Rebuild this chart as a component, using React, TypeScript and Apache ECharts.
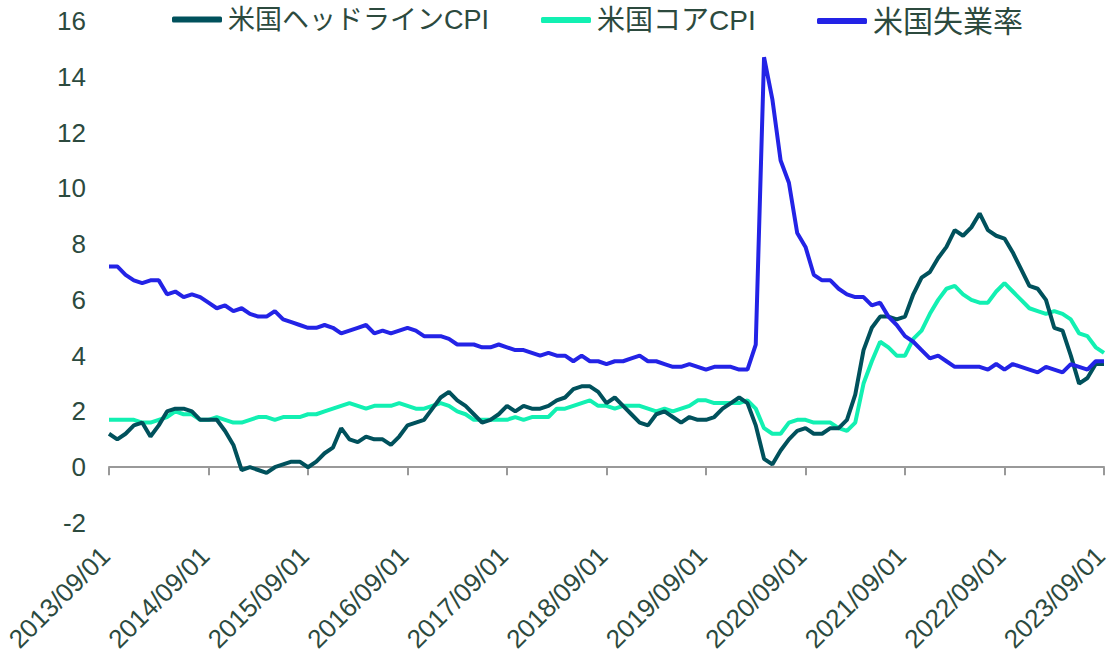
import React, { useEffect, useRef } from "react";
import * as echarts from "echarts";

// Monthly, 2013/09 .. 2023/09
const startYear = 2013;
const startMonth = 9;
const monthCount = 121;
const categories: string[] = [];
for (let i = 0; i < monthCount; i++) {
  const m = startMonth - 1 + i;
  const y = startYear + Math.floor(m / 12);
  const mm = (m % 12) + 1;
  categories.push(`${y}/${mm < 10 ? "0" + mm : mm}/01`);
}

const headlineCPI = [
  1.2, 1.0, 1.2, 1.5,
  1.6, 1.1, 1.5, 2.0, 2.1, 2.1, 2.0, 1.7, 1.7, 1.7, 1.3, 0.8,
  -0.1, 0.0, -0.1, -0.2, 0.0, 0.1, 0.2, 0.2, 0.0, 0.2, 0.5, 0.7,
  1.4, 1.0, 0.9, 1.1, 1.0, 1.0, 0.8, 1.1, 1.5, 1.6, 1.7, 2.1,
  2.5, 2.7, 2.4, 2.2, 1.9, 1.6, 1.7, 1.9, 2.2, 2.0, 2.2, 2.1,
  2.1, 2.2, 2.4, 2.5, 2.8, 2.9, 2.9, 2.7, 2.3, 2.5, 2.2, 1.9,
  1.6, 1.5, 1.9, 2.0, 1.8, 1.6, 1.8, 1.7, 1.7, 1.8, 2.1, 2.3,
  2.5, 2.3, 1.5, 0.3, 0.1, 0.6, 1.0, 1.3, 1.4, 1.2, 1.2, 1.4,
  1.4, 1.7, 2.6, 4.2, 5.0, 5.4, 5.4, 5.3, 5.4, 6.2, 6.8, 7.0,
  7.5, 7.9, 8.5, 8.3, 8.6, 9.1, 8.5, 8.3, 8.2, 7.7, 7.1, 6.5,
  6.4, 6.0, 5.0, 4.9, 4.0, 3.0, 3.2, 3.7, 3.7,
];

const coreCPI = [
  1.7, 1.7, 1.7, 1.7,
  1.6, 1.6, 1.7, 1.8, 2.0, 1.9, 1.9, 1.7, 1.7, 1.8, 1.7, 1.6,
  1.6, 1.7, 1.8, 1.8, 1.7, 1.8, 1.8, 1.8, 1.9, 1.9, 2.0, 2.1,
  2.2, 2.3, 2.2, 2.1, 2.2, 2.2, 2.2, 2.3, 2.2, 2.1, 2.1, 2.2,
  2.3, 2.2, 2.0, 1.9, 1.7, 1.7, 1.7, 1.7, 1.7, 1.8, 1.7, 1.8,
  1.8, 1.8, 2.1, 2.1, 2.2, 2.3, 2.4, 2.2, 2.2, 2.1, 2.2, 2.2,
  2.2, 2.1, 2.0, 2.1, 2.0, 2.1, 2.2, 2.4, 2.4, 2.3, 2.3, 2.3,
  2.3, 2.4, 2.1, 1.4, 1.2, 1.2, 1.6, 1.7, 1.7, 1.6, 1.6, 1.6,
  1.4, 1.3, 1.6, 3.0, 3.8, 4.5, 4.3, 4.0, 4.0, 4.6, 4.9, 5.5,
  6.0, 6.4, 6.5, 6.2, 6.0, 5.9, 5.9, 6.3, 6.6, 6.3, 6.0, 5.7,
  5.6, 5.5, 5.6, 5.5, 5.3, 4.8, 4.7, 4.3, 4.1,
];

const unemployment = [
  7.2, 7.2, 6.9, 6.7,
  6.6, 6.7, 6.7, 6.2, 6.3, 6.1, 6.2, 6.1, 5.9, 5.7, 5.8, 5.6,
  5.7, 5.5, 5.4, 5.4, 5.6, 5.3, 5.2, 5.1, 5.0, 5.0, 5.1, 5.0,
  4.8, 4.9, 5.0, 5.1, 4.8, 4.9, 4.8, 4.9, 5.0, 4.9, 4.7, 4.7,
  4.7, 4.6, 4.4, 4.4, 4.4, 4.3, 4.3, 4.4, 4.3, 4.2, 4.2, 4.1,
  4.0, 4.1, 4.0, 4.0, 3.8, 4.0, 3.8, 3.8, 3.7, 3.8, 3.8, 3.9,
  4.0, 3.8, 3.8, 3.7, 3.6, 3.6, 3.7, 3.6, 3.5, 3.6, 3.6, 3.6,
  3.5, 3.5, 4.4, 14.7, 13.2, 11.0, 10.2, 8.4, 7.9, 6.9, 6.7, 6.7,
  6.4, 6.2, 6.1, 6.1, 5.8, 5.9, 5.4, 5.1, 4.7, 4.5, 4.2, 3.9,
  4.0, 3.8, 3.6, 3.6, 3.6, 3.6, 3.5, 3.7, 3.5, 3.7, 3.6, 3.5,
  3.4, 3.6, 3.5, 3.4, 3.7, 3.6, 3.5, 3.8, 3.8,
];

const seriesNames = ["米国ヘッドラインCPI", "米国コアCPI", "米国失業率"];
const seriesColors = ["#00515c", "#12f0b2", "#2323e6"];

const TEXT = "#2c4a3e";
const FONT = "'Liberation Sans', Arial, 'Noto Sans CJK JP', sans-serif";

const legendLefts = [172, 541, 817];
const legendFontSizes = [27, 28, 30];

export default function App() {
  const ref = useRef<HTMLDivElement>(null);
  useEffect(() => {
    if (!ref.current) return;
    const chart = echarts.init(ref.current, undefined, { renderer: "svg" });
    const dataSets = [headlineCPI, coreCPI, unemployment];
    chart.setOption({
      animation: false,
      textStyle: { fontFamily: FONT, color: TEXT },
      legend: seriesNames.map((name, i) => ({
        top: 6,
        left: legendLefts[i],
        itemWidth: 50,
        itemHeight: 6,
        itemGap: 6,
        icon: "roundRect",
        padding: 0,
        textStyle: {
          fontSize: legendFontSizes[i],
          color: TEXT,
          fontFamily: FONT,
          padding: [0, 0, 0, 1],
        },
        data: [name],
      })),
      grid: {
        left: 109,
        right: 7,
        top: 21,
        bottom: 134,
        containLabel: false,
        outerBoundsMode: "none",
      },
      xAxis: {
        type: "category",
        data: categories,
        boundaryGap: false,
        axisLine: { onZero: true, lineStyle: { color: "#999999", width: 2 } },
        axisTick: {
          show: true,
          interval: 11,
          length: 8,
          lineStyle: { color: "#999999", width: 2 },
        },
        axisLabel: {
          interval: 11,
          rotate: 45,
          margin: 25,
          fontSize: 26,
          color: TEXT,
          fontFamily: FONT,
          padding: [0, 5, 0, 0],
        },
        splitLine: { show: false },
      },
      yAxis: {
        type: "value",
        min: -2,
        max: 16,
        interval: 2,
        axisLine: { show: false },
        axisTick: { show: false },
        splitLine: { show: false },
        axisLabel: { fontSize: 26, color: TEXT, margin: 23, fontFamily: FONT },
      },
      series: seriesNames.map((name, i) => ({
        name,
        type: "line",
        data: dataSets[i],
        showSymbol: false,
        symbol: "none",
        lineStyle: { width: 4, color: seriesColors[i] },
        itemStyle: { color: seriesColors[i] },
        z: i === 2 ? 3 : i === 1 ? 1 : 2,
      })),
    });
    return () => chart.dispose();
  }, []);
  return (
    <div
      ref={ref}
      style={{ position: "absolute", left: 0, top: 0, width: 1111, height: 657 }}
    />
  );
}
